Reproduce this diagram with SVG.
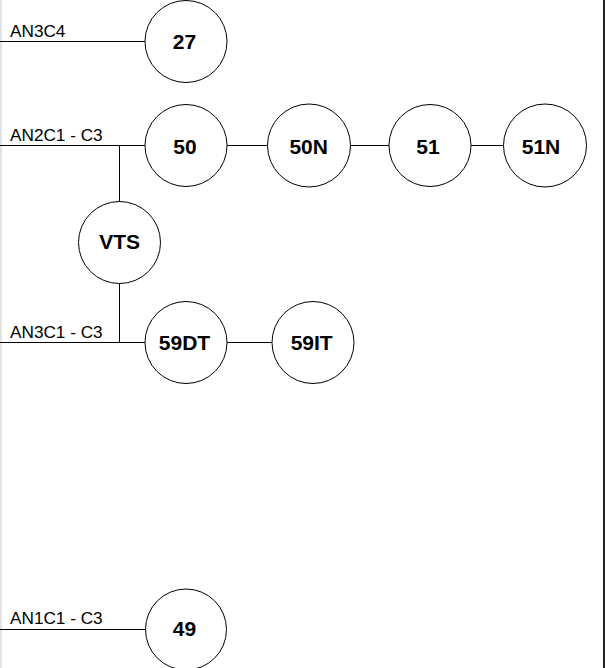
<svg xmlns="http://www.w3.org/2000/svg" width="605" height="668" viewBox="0 0 605 668">
<style>
.n{fill:#fff;stroke:#000;stroke-width:1}
.t{font-family:"Liberation Sans",Arial,sans-serif;font-weight:bold;font-size:21px;text-anchor:middle;fill:#000}
.l{font-family:"Liberation Sans",Arial,sans-serif;font-size:17.2px;fill:#000}
.c line{stroke:#000;stroke-width:1}
</style>
<rect x="0" y="0" width="605" height="668" fill="#fff"/>
<line x1="1" y1="0" x2="1" y2="668" stroke="#d8d8d8" stroke-width="1.5"/>
<rect x="603" y="0" width="2" height="668" fill="#222"/>
<g class="c" id="connectors">
<line x1="0" y1="41.5" x2="145" y2="41.5"/>
<line x1="0" y1="145.5" x2="145" y2="145.5"/>
<line x1="227" y1="145.5" x2="267" y2="145.5"/>
<line x1="351" y1="145.5" x2="389" y2="145.5"/>
<line x1="471" y1="145.5" x2="503" y2="145.5"/>
<line x1="119.5" y1="145.5" x2="119.5" y2="202"/>
<line x1="119.5" y1="283" x2="119.5" y2="342.5"/>
<line x1="0" y1="342.5" x2="145" y2="342.5"/>
<line x1="227" y1="342.5" x2="272" y2="342.5"/>
<line x1="0" y1="629.5" x2="145" y2="629.5"/>
</g>
<text class="l" x="10" y="36.5">AN3C4</text>
<text class="l" x="10" y="141">AN2C1 - C3</text>
<text class="l" x="10" y="338">AN3C1 - C3</text>
<text class="l" x="10" y="624">AN1C1 - C3</text>
<g id="n27"><circle class="n" cx="186" cy="41.5" r="41"/><text class="t" x="184.5" y="48.5">27</text></g>
<g id="n50"><circle class="n" cx="186" cy="145.5" r="41"/><text class="t" x="185" y="154">50</text></g>
<g id="n50N"><circle class="n" cx="309" cy="145.5" r="41.5"/><text class="t" x="308.7" y="154">50N</text></g>
<g id="n51"><circle class="n" cx="430" cy="145.5" r="41"/><text class="t" x="428" y="154">51</text></g>
<g id="n51N"><circle class="n" cx="545" cy="145.5" r="41.5"/><text class="t" x="541" y="154">51N</text></g>
<g id="nVTS"><circle class="n" cx="119.5" cy="242.5" r="41"/><text class="t" x="119.7" y="248.5">VTS</text></g>
<g id="n59DT"><circle class="n" cx="186" cy="342.5" r="41"/><text class="t" x="184.5" y="350">59DT</text></g>
<g id="n59IT"><circle class="n" cx="313" cy="342.5" r="41"/><text class="t" x="311.7" y="350">59IT</text></g>
<g id="n49"><circle class="n" cx="186" cy="629.5" r="40.5"/><text class="t" x="184.5" y="636">49</text></g>
</svg>
